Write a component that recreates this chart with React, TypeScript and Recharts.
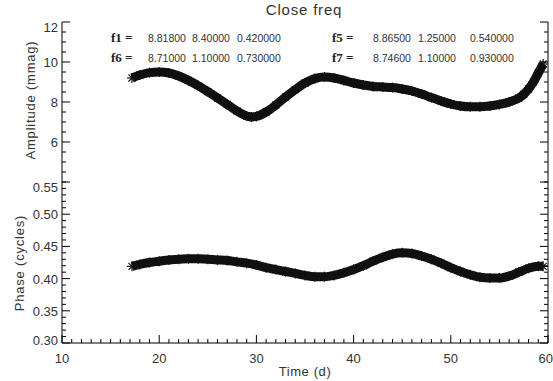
import React from "react";
import { Line, LineChart, XAxis, YAxis } from "recharts";

// amplitude curve
const ampTime = [
  17.2, 18, 19, 20, 21, 22, 23, 24, 25, 26, 27, 28, 29, 29.5, 30, 31, 32, 33,
  34, 35, 36, 37, 38, 39, 40, 41, 42, 43, 44, 45, 46, 47, 48, 49, 50, 51, 52,
  53, 54, 55, 56, 57, 57.5, 58, 58.5, 59, 59.5,
];
const ampValue = [
  9.2, 9.35, 9.47, 9.5, 9.45, 9.3, 9.08, 8.82, 8.52, 8.2, 7.88, 7.55, 7.3,
  7.25, 7.28, 7.5, 7.85, 8.25, 8.62, 8.95, 9.17, 9.25, 9.2, 9.08, 8.95, 8.85,
  8.78, 8.75, 8.72, 8.65, 8.55, 8.4, 8.22, 8.05, 7.9, 7.8, 7.76, 7.76, 7.8,
  7.88, 8.0, 8.2, 8.38, 8.65, 9.0, 9.45, 9.9,
];

// phase curve
const phaseTime = [
  17.2, 18, 19, 20, 21, 22, 23, 24, 25, 26, 27, 28, 29, 30, 31, 32, 33, 34, 35,
  36, 37, 38, 39, 40, 41, 42, 43, 44, 45, 46, 47, 48, 49, 50, 51, 52, 53, 54,
  55, 56, 57, 58, 59, 59.5,
];
const phaseValue = [
  0.419, 0.422, 0.425, 0.427, 0.429, 0.43, 0.431, 0.431, 0.43, 0.429, 0.428,
  0.426, 0.424, 0.421, 0.417, 0.414, 0.411, 0.408, 0.405, 0.403, 0.403, 0.405,
  0.409, 0.414, 0.42, 0.427, 0.433, 0.438, 0.44, 0.439, 0.435, 0.43, 0.424,
  0.417, 0.411, 0.406, 0.402, 0.401, 0.401, 0.404, 0.41, 0.416, 0.419, 0.419,
];

const timeTicks = [10, 20, 30, 40, 50, 60];
const ampTicks = [6, 8, 10, 12];
const phaseTicks = [0.3, 0.35, 0.4, 0.45, 0.5, 0.55];

const timeMinor = Array.from({ length: 51 }, (_, i) => 10 + i);
const ampMinor = Array.from({ length: 17 }, (_, i) => 4 + i * 0.5);
const phaseMinor = Array.from({ length: 26 }, (_, i) => (30 + i) / 100);

const freqNames = ["f1", "f6", "f5", "f7"];
const freqValues = [
  ["8.81800", "8.40000", "0.420000"],
  ["8.71000", "1.10000", "0.730000"],
  ["8.86500", "1.25000", "0.540000"],
  ["8.74600", "1.10000", "0.930000"],
];

const ampData = ampTime.map((t, i) => ({ t, v: ampValue[i] }));
const phaseData = phaseTime.map((t, i) => ({ t, v: phaseValue[i] }));

const FONT = "'Liberation Sans', Arial, sans-serif";
const TXT = "#333";

const isMajor = (majors: number[], v: number) =>
  majors.some((m) => Math.abs(m - v) < 1e-6);

function makeTick(
  side: "left" | "right" | "top" | "bottom",
  majors: number[],
  labels: boolean,
  fmt: (v: number) => string,
  domain: [number, number]
) {
  return (props: any) => {
    const { x, y, payload, index } = props;
    const v = payload.value;
    const major = isMajor(majors, v);
    const len = major ? 8 : 4;
    let x2 = x;
    let y2 = y;
    if (side === "left") x2 = x + len;
    if (side === "right") x2 = x - len;
    if (side === "top") y2 = y + len;
    if (side === "bottom") y2 = y - len;
    let label = null;
    if (labels && major) {
      if (side === "left") {
        let dy = 5;
        if (Math.abs(v - domain[1]) < 1e-6) dy = 10;
        if (Math.abs(v - domain[0]) < 1e-6) dy = 2;
        label = (
          <text x={x - 4} y={y + dy} textAnchor="end" fontSize={13} fill={TXT} fontFamily={FONT}>
            {fmt(v)}
          </text>
        );
      } else if (side === "bottom") {
        // last label sits at the right edge of the window
        const last = Math.abs(v - domain[1]) < 1e-6;
        label = (
          <text
            x={last ? 553 : x}
            y={y + 20}
            textAnchor={last ? "end" : "middle"}
            fontSize={13}
            fill={TXT}
            fontFamily={FONT}
          >
            {fmt(v)}
          </text>
        );
      }
    }
    return (
      <g key={`tk-${index}`}>
        <line x1={x} y1={y} x2={x2} y2={y2} stroke="#000" strokeWidth={1} />
        {label}
      </g>
    );
  };
}

const Star = (props: any) => {
  const { cx, cy, index } = props;
  const r = 5;
  const d = r * 0.7;
  return (
    <g key={`st-${index}`} stroke="#111" strokeWidth={1.2}>
      <line x1={cx - r} y1={cy} x2={cx + r} y2={cy} />
      <line x1={cx} y1={cy - r} x2={cx} y2={cy + r} />
      <line x1={cx - d} y1={cy - d} x2={cx + d} y2={cy + d} />
      <line x1={cx - d} y1={cy + d} x2={cx + d} y2={cy - d} />
    </g>
  );
};

const YLabel = ({ x, y, text }: { x: number; y: number; text: string }) => (
  <text
    x={x}
    y={y}
    transform={`rotate(-90, ${x}, ${y})`}
    textAnchor="middle"
    dominantBaseline="central"
    fontSize={13}
    letterSpacing={0.8}
    fill={TXT}
    fontFamily={FONT}
  >
    {text}
  </text>
);

export default function App() {
  const axisLine = { stroke: "#000", strokeWidth: 1 };
  const timeAll = timeMinor;
  return (
    <div style={{ position: "absolute", left: 0, top: 0, width: 553, height: 381, background: "#fff", overflow: "hidden" }}>
      <style>{`.recharts-surface { overflow: visible; }`}</style>
      <div style={{ position: "absolute", left: 0, top: 0 }}>
        <LineChart
          width={553}
          height={182}
          data={ampData}
          margin={{ top: 22, right: 0, bottom: 0, left: 0 }}
        >
          <XAxis
            xAxisId="b"
            type="number"
            dataKey="t"
            domain={[10, 60]}
            ticks={timeAll}
            interval={0}
            height={0}
            tickSize={0}
            tickMargin={0}
            tickLine={false}
            axisLine={axisLine}
            tick={makeTick("bottom", timeTicks, false, String, [10, 60])}
          />
          <XAxis
            xAxisId="t"
            orientation="top"
            type="number"
            domain={[10, 60]}
            allowDataOverflow
            ticks={timeAll}
            interval={0}
            height={0}
            tickSize={0}
            tickMargin={0}
            tickLine={false}
            axisLine={axisLine}
            tick={makeTick("top", timeTicks, false, String, [10, 60])}
          />
          <YAxis
            yAxisId="l"
            type="number"
            domain={[4, 12]}
            ticks={ampMinor}
            interval={0}
            width={62}
            tickSize={0}
            tickMargin={0}
            tickLine={false}
            axisLine={axisLine}
            tick={makeTick("left", ampTicks, true, (v) => String(v), [4, 12])}
          />
          <YAxis
            yAxisId="r"
            orientation="right"
            type="number"
            domain={[4, 12]}
            allowDataOverflow
            ticks={ampMinor}
            interval={0}
            width={5}
            tickSize={0}
            tickMargin={0}
            tickLine={false}
            axisLine={axisLine}
            tick={makeTick("right", ampTicks, false, String, [4, 12])}
          />
          <Line
            xAxisId="b"
            yAxisId="l"
            type="monotone"
            dataKey="v"
            stroke="#111"
            strokeWidth={9}
            dot={Star}
            isAnimationActive={false}
          />
        </LineChart>
      </div>
      <div style={{ position: "absolute", left: 0, top: 182 }}>
        <LineChart
          width={553}
          height={199}
          data={phaseData}
          margin={{ top: 0, right: 0, bottom: 0, left: 0 }}
        >
          <XAxis
            xAxisId="b"
            type="number"
            dataKey="t"
            domain={[10, 60]}
            ticks={timeAll}
            interval={0}
            height={38}
            tickSize={0}
            tickMargin={0}
            tickLine={false}
            axisLine={axisLine}
            tick={makeTick("bottom", timeTicks, true, String, [10, 60])}
          />
          <XAxis
            xAxisId="t"
            orientation="top"
            type="number"
            domain={[10, 60]}
            allowDataOverflow
            ticks={timeAll}
            interval={0}
            height={0}
            tickSize={0}
            tickMargin={0}
            tickLine={false}
            axisLine={axisLine}
            tick={makeTick("top", timeTicks, false, String, [10, 60])}
          />
          <YAxis
            yAxisId="l"
            type="number"
            domain={[0.3, 0.55]}
            ticks={phaseMinor}
            interval={0}
            width={62}
            tickSize={0}
            tickMargin={0}
            tickLine={false}
            axisLine={axisLine}
            tick={makeTick("left", phaseTicks, true, (v) => v.toFixed(2), [0.3, 0.55])}
          />
          <YAxis
            yAxisId="r"
            orientation="right"
            type="number"
            domain={[0.3, 0.55]}
            allowDataOverflow
            ticks={phaseMinor}
            interval={0}
            width={5}
            tickSize={0}
            tickMargin={0}
            tickLine={false}
            axisLine={axisLine}
            tick={makeTick("right", phaseTicks, false, String, [0.3, 0.55])}
          />
          <Line
            xAxisId="b"
            yAxisId="l"
            type="monotone"
            dataKey="v"
            stroke="#111"
            strokeWidth={9}
            dot={Star}
            isAnimationActive={false}
          />
        </LineChart>
      </div>
      <svg
        width={553}
        height={381}
        style={{ position: "absolute", left: 0, top: 0, pointerEvents: "none" }}
      >
        <text x={304} y={15} textAnchor="middle" fontSize={15} letterSpacing={0.8} fill={TXT} fontFamily={FONT}>
          Close freq
        </text>
        <YLabel x={30} y={100} text="Amplitude (mmag)" />
        <YLabel x={19} y={263} text="Phase (cycles)" />
        <text x={305} y={376} textAnchor="middle" fontSize={13} letterSpacing={0.6} fill={TXT} fontFamily={FONT}>
          Time (d)
        </text>
        {freqNames.map((name, i) => {
          const left = i < 2;
          const by = i % 2 === 0 ? 42 : 62;
          const nx = left ? 111 : 332;
          const cols = left ? [148, 192, 237] : [373, 418, 470];
          return (
            <g key={name}>
              <text
                x={nx}
                y={by}
                fontSize={13}
                fontWeight="bold"
                fill="#222"
                fontFamily="'Liberation Serif', 'DejaVu Serif', serif"
              >
                {name} =
              </text>
              {freqValues[i].map((val, j) => (
                <text key={j} x={cols[j]} y={by} fontSize={10.5} fill={TXT} fontFamily={FONT}>
                  {val}
                </text>
              ))}
            </g>
          );
        })}
      </svg>
    </div>
  );
}
